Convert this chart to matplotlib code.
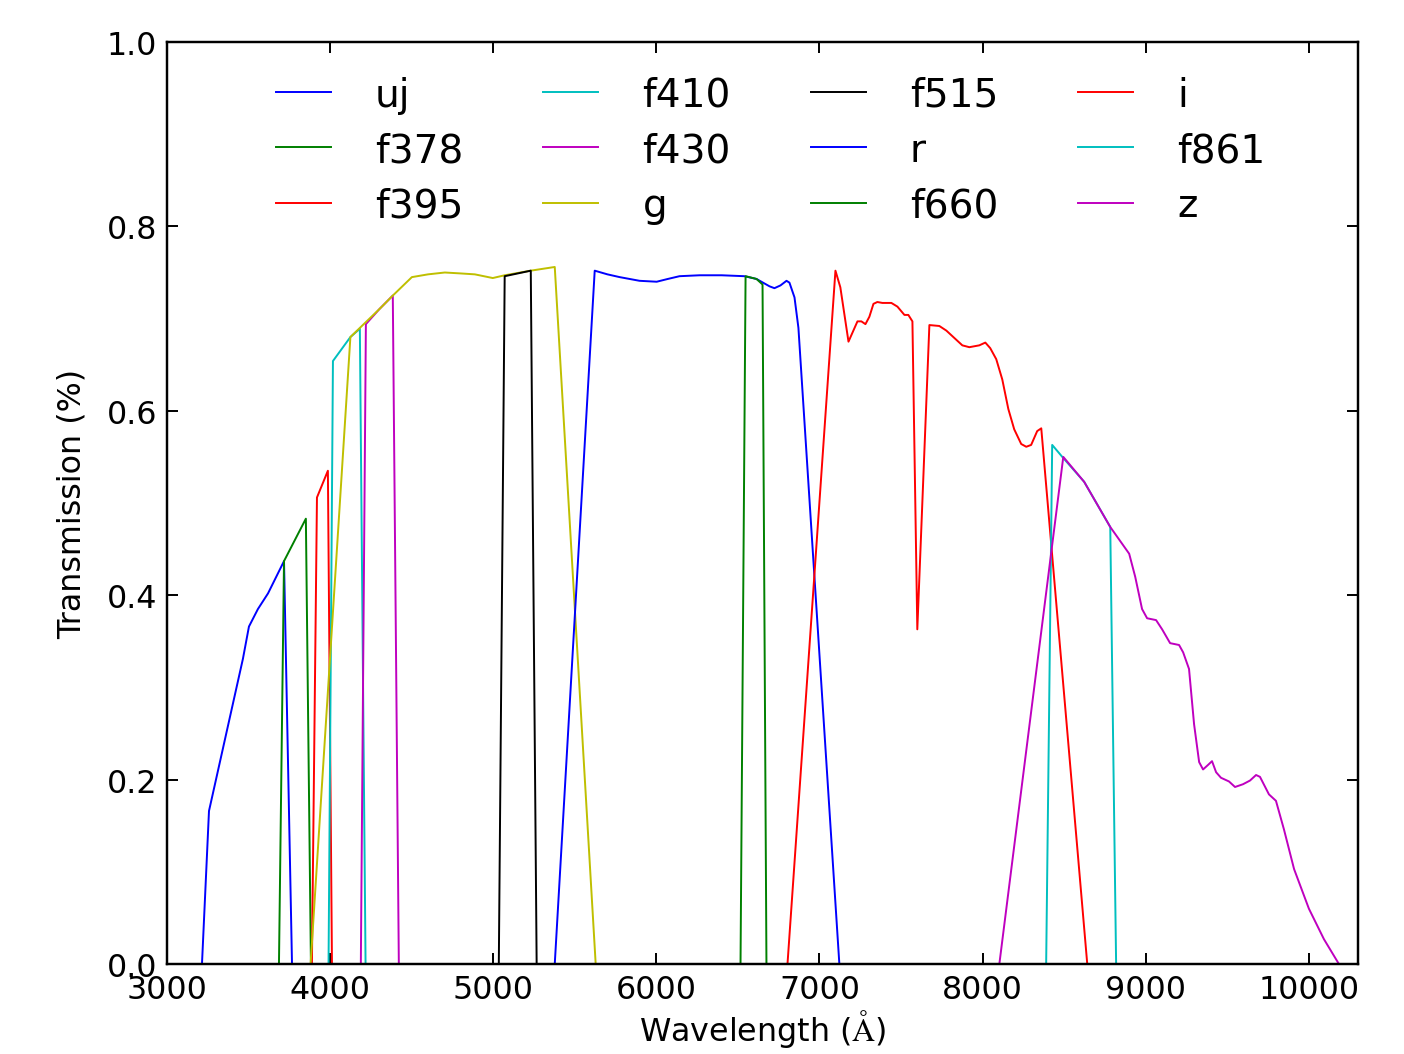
import matplotlib
matplotlib.use('Agg')
import matplotlib.pyplot as plt

plt.rcParams['font.family'] = 'DejaVu Sans'
plt.rcParams['mathtext.fontset'] = 'stix'

# filter transmission curves (wavelength in Angstrom, transmission)
uj_w = [3214, 3257, 3465, 3502, 3557, 3619, 3717, 3766]
uj_t = [0.0, 0.166, 0.331, 0.366, 0.385, 0.402, 0.437, 0.0]

f378_w = [3686, 3717, 3851, 3882]
f378_t = [0.0, 0.437, 0.483, 0.0]

f395_w = [3888, 3919, 3986, 4011]
f395_t = [0.0, 0.506, 0.535, 0.0]

f410_w = [3990, 4017, 4124, 4182, 4217]
f410_t = [0.0, 0.654, 0.680, 0.689, 0.0]

f430_w = [4188, 4219, 4300, 4384, 4421]
f430_t = [0.0, 0.694, 0.710, 0.725, 0.0]

g_w = [3880, 4124, 4200, 4300, 4384, 4501, 4600, 4703, 4800, 4887, 4997,
       5070, 5230, 5377, 5628]
g_t = [0.0, 0.680, 0.693, 0.710, 0.725, 0.745, 0.748, 0.750, 0.749, 0.748,
       0.744, 0.747, 0.752, 0.756, 0.0]

f515_w = [5034, 5070, 5230, 5266]
f515_t = [0.0, 0.746, 0.752, 0.0]

r_w = [5377, 5622, 5700, 5775, 5897, 6002, 6070, 6142, 6265, 6400, 6540,
       6614, 6694, 6724, 6761, 6798, 6816, 6847, 6871, 7122]
r_t = [0.0, 0.752, 0.748, 0.745, 0.741, 0.740, 0.743, 0.746, 0.747, 0.747,
       0.746, 0.743, 0.735, 0.733, 0.736, 0.741, 0.739, 0.723, 0.690, 0.0]

f660_w = [6516, 6547, 6614, 6651, 6675]
f660_t = [0.0, 0.746, 0.743, 0.737, 0.0]

i_w = [6804, 7098, 7128, 7178, 7233, 7257, 7282, 7306, 7331, 7355, 7386,
       7441, 7478, 7521, 7545, 7570, 7600, 7674, 7735, 7778, 7827, 7876,
       7919, 7980, 8017, 8047, 8084, 8121, 8158, 8194, 8237, 8268, 8298,
       8335, 8360, 8642]
i_t = [0.0, 0.752, 0.734, 0.675, 0.697, 0.697, 0.694, 0.702, 0.716, 0.718,
       0.717, 0.717, 0.713, 0.704, 0.704, 0.697, 0.363, 0.693, 0.692, 0.687,
       0.679, 0.671, 0.669, 0.671, 0.674, 0.668, 0.656, 0.634, 0.602, 0.580,
       0.564, 0.561, 0.563, 0.578, 0.581, 0.0]

f861_w = [8390, 8427, 8489, 8623, 8783, 8819]
f861_t = [0.0, 0.563, 0.550, 0.523, 0.474, 0.0]

z_w = [8103, 8495, 8623, 8783, 8899, 8936, 8978, 9009, 9064, 9101, 9150,
       9205, 9230, 9266, 9297, 9328, 9352, 9383, 9407, 9432, 9462, 9511,
       9548, 9597, 9640, 9677, 9701, 9756, 9799, 9848, 9910, 10001, 10093,
       10185]
z_t = [0.0, 0.550, 0.523, 0.474, 0.445, 0.420, 0.385, 0.375, 0.373, 0.363,
       0.348, 0.346, 0.338, 0.320, 0.260, 0.219, 0.211, 0.216, 0.220, 0.208,
       0.202, 0.198, 0.192, 0.195, 0.199, 0.205, 0.203, 0.184, 0.177, 0.146,
       0.103, 0.060, 0.027, 0.0]

filters = ['uj', 'f378', 'f395', 'f410', 'f430', 'g',
           'f515', 'r', 'f660', 'i', 'f861', 'z']
curves = [(uj_w, uj_t), (f378_w, f378_t), (f395_w, f395_t),
          (f410_w, f410_t), (f430_w, f430_t), (g_w, g_t),
          (f515_w, f515_t), (r_w, r_t), (f660_w, f660_t),
          (i_w, i_t), (f861_w, f861_t), (z_w, z_t)]
# classic matplotlib colour cycle b, g, r, c, m, y, k
cycle = ['#0000ff', '#008000', '#ff0000', '#00bfbf', '#bf00bf', '#bfbf00', '#000000']

fig = plt.figure(figsize=(8, 6.011), dpi=175.5)
ax = fig.add_axes([0.119, 0.0853, 0.848, 0.874])

for k, (name, (w, t)) in enumerate(zip(filters, curves)):
    ax.plot(w, t, color=cycle[k % len(cycle)], lw=0.8, label=name)

ax.set_xlim(3000, 10300)
ax.set_ylim(0, 1.0)
ax.set_xticks(range(3000, 10001, 1000))
ax.set_yticks([0.0, 0.2, 0.4, 0.6, 0.8, 1.0])
ax.set_yticklabels(['0.0', '0.2', '0.4', '0.6', '0.8', '1.0'])
ax.tick_params(direction='in', top=True, right=True, length=4.5, width=0.8,
               labelsize=13, pad=4)
for sp in ax.spines.values():
    sp.set_linewidth(1.0)

ax.set_xlabel(r'Wavelength ($\mathrm{\AA}$)', fontsize=13, labelpad=1)
ax.set_ylabel('Transmission (%)', fontsize=13, labelpad=8)

ax.legend(loc='upper center', bbox_to_anchor=(0.507, 1.0), ncol=4,
          frameon=False, fontsize=16, handlelength=1.41, handletextpad=1.13,
          columnspacing=2.05, labelspacing=0.44, borderaxespad=0.47)

fig.savefig('out.png', dpi=175.5)
